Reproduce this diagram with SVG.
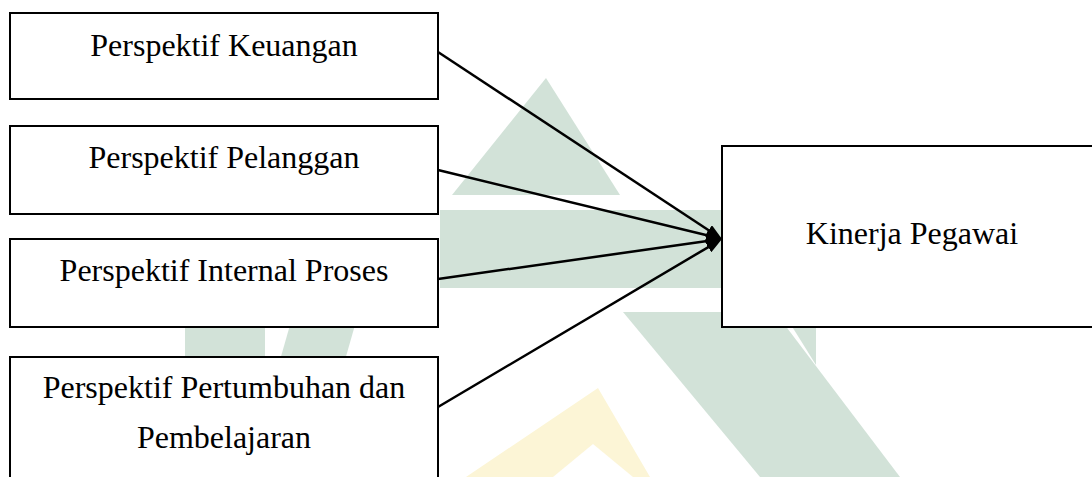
<svg xmlns="http://www.w3.org/2000/svg" width="1092" height="477" viewBox="0 0 1092 477">
  <style>
    .node rect { fill: #ffffff; stroke: #000000; stroke-width: 2; }
    .node text { font-family: "Liberation Serif", "Times New Roman", serif; font-size: 32px; fill: #000000; text-anchor: middle; }
    .conn line { stroke: #000000; stroke-width: 2.5; marker-end: url(#ah); }
    .wm-g { fill: #d2e2d8; }
    .wm-y { fill: #fcf5d6; }
  </style>
  <defs>
    <marker id="ah" markerWidth="16" markerHeight="12" refX="10" refY="6" orient="auto" markerUnits="userSpaceOnUse">
      <path d="M0,0 L16,6 L0,12 z" fill="#000000"/>
    </marker>
  </defs>
  <rect width="1092" height="477" fill="#ffffff"/>
  <g id="watermark">
    <polygon class="wm-g" points="546,78 452,195 620,195"/>
    <rect class="wm-g" x="440" y="210" width="300" height="78"/>
    <rect class="wm-g" x="185" y="290" width="80" height="70"/>
    <polygon class="wm-g" points="300,290 365,290 345,360 280,360"/>
    <polygon class="wm-g" points="623,312 775,312 900,477 760,477"/>
    <polygon class="wm-g" points="783,312 816,312 816,365"/>
    <polygon class="wm-y" points="598,388 466,477 650,477"/>
    <polygon fill="#ffffff" points="593,444 553,477 633,477"/>
  </g>
  <g id="connectors" class="conn">
    <line x1="438" y1="52" x2="716.99" y2="235.70"/>
    <line x1="438" y1="170" x2="716.17" y2="237.58"/>
    <line x1="438" y1="279" x2="716.06" y2="239.84"/>
    <line x1="438" y1="407" x2="716.84" y2="242.05"/>
  </g>
  <g id="node-keuangan" class="node">
    <rect x="10" y="13" width="428" height="86"/>
    <text x="224" y="56">Perspektif Keuangan</text>
  </g>
  <g id="node-pelanggan" class="node">
    <rect x="10" y="126" width="428" height="88"/>
    <text x="224" y="168">Perspektif Pelanggan</text>
  </g>
  <g id="node-internal" class="node">
    <rect x="10" y="239" width="428" height="88"/>
    <text x="224" y="281">Perspektif Internal Proses</text>
  </g>
  <g id="node-pertumbuhan" class="node">
    <rect x="10" y="357" width="428" height="140"/>
    <text x="224" y="398">Perspektif Pertumbuhan dan</text>
    <text x="224" y="448">Pembelajaran</text>
  </g>
  <g id="node-kinerja" class="node">
    <rect x="722" y="146" width="390" height="181"/>
    <text x="912" y="244">Kinerja Pegawai</text>
  </g>
</svg>
